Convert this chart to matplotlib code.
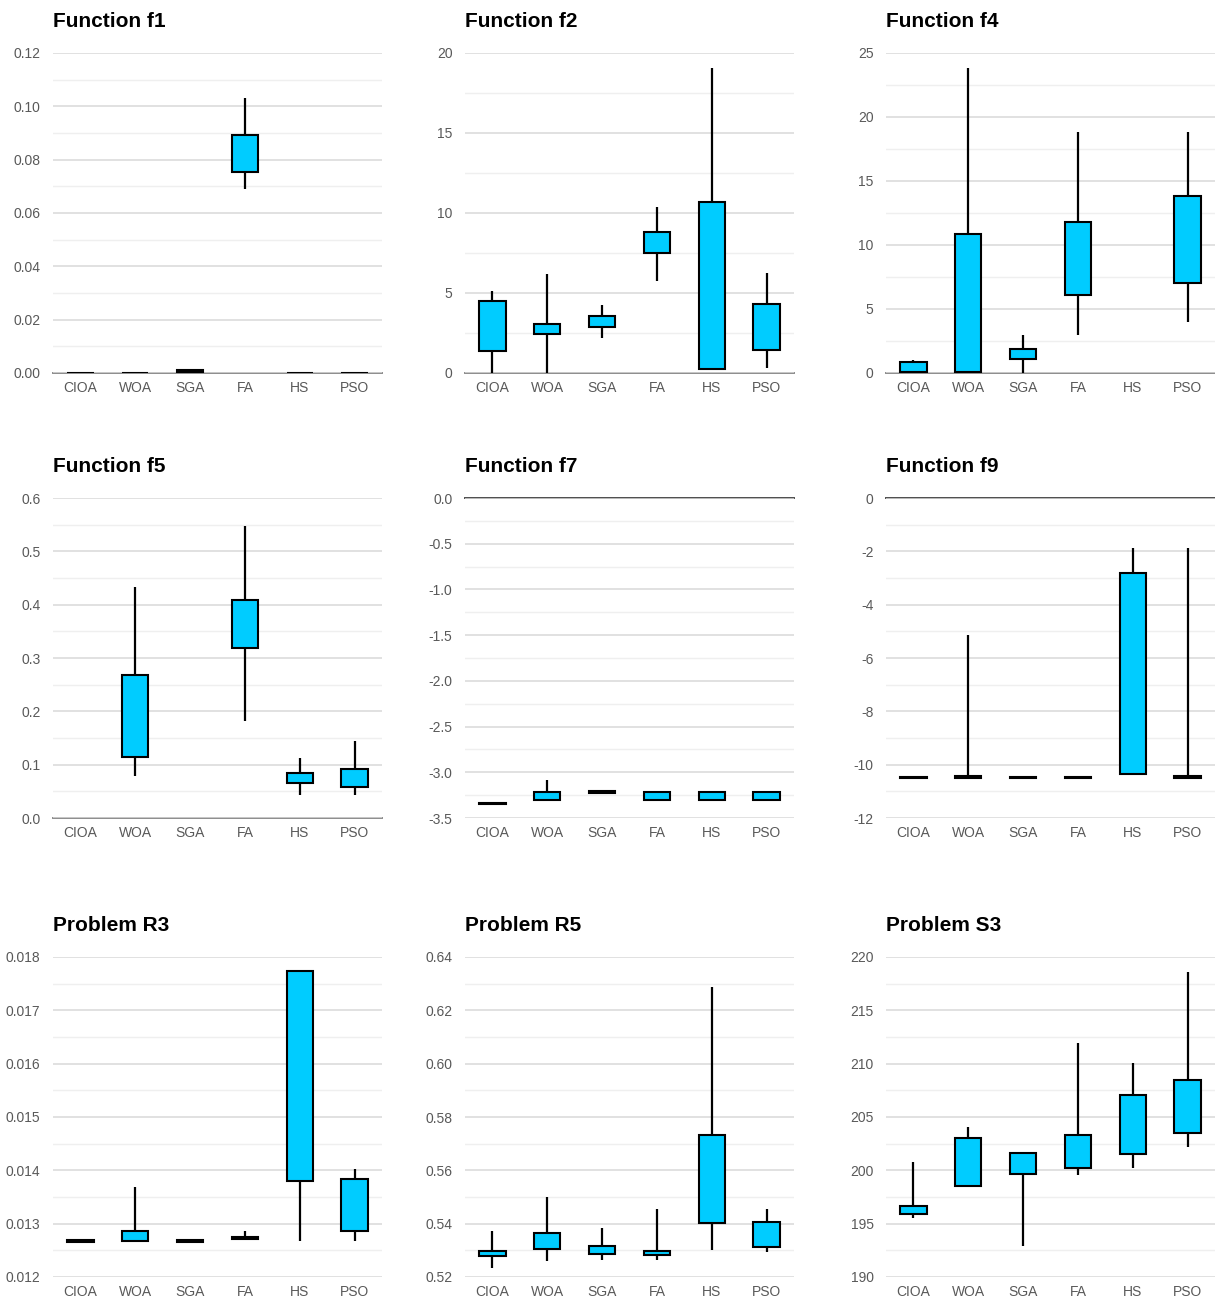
import matplotlib.pyplot as plt
from matplotlib.ticker import MultipleLocator, FormatStrFormatter
import numpy as np

plt.rcParams['font.family'] = ['Liberation Sans', 'DejaVu Sans']
plt.rcParams['axes.unicode_minus'] = False

algos = ['CIOA', 'WOA', 'SGA', 'FA', 'HS', 'PSO']
nan = np.nan

# each panel: min, q1, q3, max per algorithm
f1_min = [0, 0, 0, 0.069, 0, 0]
f1_q1 = [0, 0, 0.0002, 0.0754, 0, 0]
f1_q3 = [0, 0, 0.0012, 0.0891, 0, 0]
f1_max = [0, 0, 0.0016, 0.1033, 0, 0]

f2_min = [0, 0, 2.19, 5.74, 0.17, 0.33]
f2_q1 = [1.40, 2.46, 2.88, 7.47, 0.27, 1.44]
f2_q3 = [4.51, 3.05, 3.55, 8.81, 10.67, 4.30]
f2_max = [5.11, 6.16, 4.24, 10.4, 19.04, 6.26]

f4_min = [0.05, 0, 0, 3.0, nan, 4.02]
f4_q1 = [0.08, 0.08, 1.07, 6.11, nan, 7.07]
f4_q3 = [0.84, 10.83, 1.90, 11.82, nan, 13.86]
f4_max = [0.99, 23.8, 2.95, 18.84, nan, 18.84]

f5_min = [nan, 0.078, nan, 0.1825, 0.0425, 0.0425]
f5_q1 = [nan, 0.114, nan, 0.318, 0.066, 0.059]
f5_q3 = [nan, 0.268, nan, 0.408, 0.084, 0.0925]
f5_max = [nan, 0.4325, nan, 0.5475, 0.112, 0.145]

f7_min = [-3.352, -3.307, -3.228, -3.307, -3.307, -3.307]
f7_q1 = [-3.352, -3.307, -3.228, -3.307, -3.307, -3.307]
f7_q3 = [-3.334, -3.212, -3.210, -3.212, -3.212, -3.212]
f7_max = [-3.334, -3.084, -3.210, -3.212, -3.212, -3.212]

f9_min = [-10.505, -10.485, -10.505, -10.505, -10.34, -10.485]
f9_q1 = [-10.505, -10.485, -10.505, -10.505, -10.34, -10.485]
f9_q3 = [-10.445, -10.425, -10.445, -10.445, -2.81, -10.425]
f9_max = [-10.445, -5.125, -10.445, -10.445, -1.875, -1.875]

r3_min = [0.01265, 0.01266, 0.01265, 0.012705, 0.012675, 0.01267]
r3_q1 = [0.01265, 0.012675, 0.01265, 0.012705, 0.013794, 0.012863]
r3_q3 = [0.01269, 0.012869, 0.01269, 0.012745, 0.017731, 0.013838]
r3_max = [0.01272, 0.013681, 0.01269, 0.012863, 0.017731, 0.01403]

r5_min = [0.5234, 0.5261, 0.5265, 0.5265, 0.5303, 0.5295]
r5_q1 = [0.5278, 0.5304, 0.5286, 0.5283, 0.5403, 0.5313]
r5_q3 = [0.5298, 0.5366, 0.5316, 0.5298, 0.5734, 0.5405]
r5_max = [0.5371, 0.5499, 0.5384, 0.5456, 0.6286, 0.5456]

s3_min = [195.5, 198.56, 192.9, 199.53, 200.22, 202.2]
s3_q1 = [195.88, 198.56, 199.63, 200.22, 201.56, 203.53]
s3_q3 = [196.69, 203.0, 201.63, 203.28, 207.09, 208.5]
s3_max = [200.78, 204.1, 201.6, 211.9, 210.03, 218.56]

titles = ['Function f1', 'Function f2', 'Function f4',
          'Function f5', 'Function f7', 'Function f9',
          'Problem R3', 'Problem R5', 'Problem S3']
stats = [(f1_min, f1_q1, f1_q3, f1_max), (f2_min, f2_q1, f2_q3, f2_max),
         (f4_min, f4_q1, f4_q3, f4_max), (f5_min, f5_q1, f5_q3, f5_max),
         (f7_min, f7_q1, f7_q3, f7_max), (f9_min, f9_q1, f9_q3, f9_max),
         (r3_min, r3_q1, r3_q3, r3_max), (r5_min, r5_q1, r5_q3, r5_max),
         (s3_min, s3_q1, s3_q3, s3_max)]
# ylim low, high, major step, format, axis line position
ylims = [(0, 0.12, 0.02, '%.2f', 0), (0, 20, 5, '%.0f', 0), (0, 25, 5, '%.0f', 0),
         (0, 0.6, 0.1, '%.1f', 0), (-3.5, 0, 0.5, '%.1f', 0), (-12, 0, 2, '%.0f', 0),
         (0.012, 0.018, 0.001, '%.3f', None), (0.52, 0.64, 0.02, '%.2f', None),
         (190, 220, 5, '%.0f', None)]

W, H = 1215, 1301
fig = plt.figure(figsize=(W / 100, H / 100), dpi=100)
lefts = [53, 465, 886]
bottoms = [373, 818, 1277]
aw, ah = 329, 320
fill = '#00CCFF'
x = np.arange(len(algos))

for i in range(9):
    r, c = divmod(i, 3)
    ax = fig.add_axes([lefts[c] / W, 1 - bottoms[r] / H, aw / W, ah / H])
    lo, hi, step, fmt, axline = ylims[i]
    mn, q1, q3, mx = [np.array(s, dtype=float) for s in stats[i]]
    ax.set_ylim(lo, hi)
    ax.set_xlim(-0.5, 5.5)
    ax.yaxis.set_major_locator(MultipleLocator(step))
    ax.yaxis.set_minor_locator(MultipleLocator(step / 2))
    ax.yaxis.set_major_formatter(FormatStrFormatter(fmt))
    ax.grid(True, which='major', axis='y', color='#D9D9D9', lw=1.1, zorder=0)
    ax.grid(True, which='minor', axis='y', color='#EFEFEF', lw=1.0, zorder=0)
    if axline is not None:
        ax.axhline(axline, color='#8C8C8C' if axline == lo else '#4D4D4D',
                   lw=1.4, zorder=1, clip_on=False)
    for s in ax.spines.values():
        s.set_visible(False)
    ax.tick_params(axis='both', which='both', length=0, labelsize=10,
                   labelcolor='#595959')
    ax.tick_params(axis='y', pad=9)
    ax.tick_params(axis='x', pad=5.5)
    ax.set_xticks(x)
    ax.set_xticklabels(algos)
    ok = ~np.isnan(q1)
    ax.vlines(x[ok], mn[ok], mx[ok], color='black', lw=1.6, zorder=2)
    ax.bar(x[ok], q3[ok] - q1[ok], bottom=q1[ok], width=0.48, color=fill,
           edgecolor='black', linewidth=1.5, zorder=3)
    ax.set_title(titles[i], loc='left', fontsize=15, fontweight='bold',
                 pad=18.5, x=0.0)

fig.savefig('out.png', dpi=100)
